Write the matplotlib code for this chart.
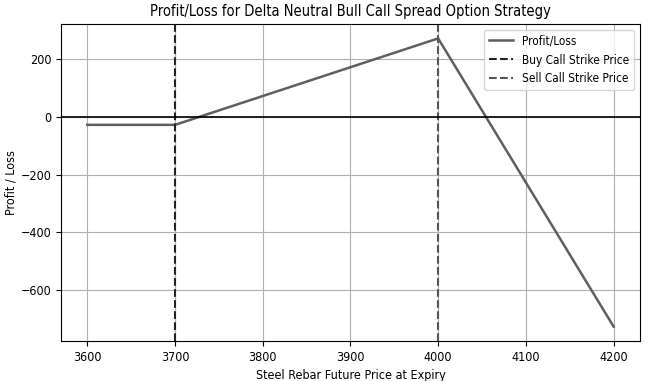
import numpy as np
import matplotlib.pyplot as plt

plt.rcParams['font.stretch'] = 'condensed'

# Preise am Verfall und Gewinn/Verlust
price = [3600, 3700, 4000, 4200]
pnl = [-27, -27, 273, -727]
buy_strike = 3700
sell_strike = 4000

fig, ax = plt.subplots(figsize=(6.55, 3.81), dpi=100)

ax.plot(price, pnl, color="#5f5f5f", lw=1.8, label="Profit/Loss")
ax.axvline(buy_strike, color="#222222", ls="--", lw=1.5, label="Buy Call Strike Price")
ax.axvline(sell_strike, color="#555555", ls="--", lw=1.5, label="Sell Call Strike Price")
ax.axhline(0, color="black", lw=1.2)

ax.set_title("Profit/Loss for Delta Neutral Bull Call Spread Option Strategy", fontsize=10.5)
ax.set_xlabel("Steel Rebar Future Price at Expiry", fontsize=9)
ax.set_ylabel("Profit / Loss", fontsize=9, labelpad=2)
ax.tick_params(labelsize=9)
ax.grid(True, color="#b0b0b0")
ax.legend(loc="upper right", fontsize=8.5)

fig.subplots_adjust(left=0.093, right=0.977, top=0.937, bottom=0.105)
fig.savefig("out.png")
